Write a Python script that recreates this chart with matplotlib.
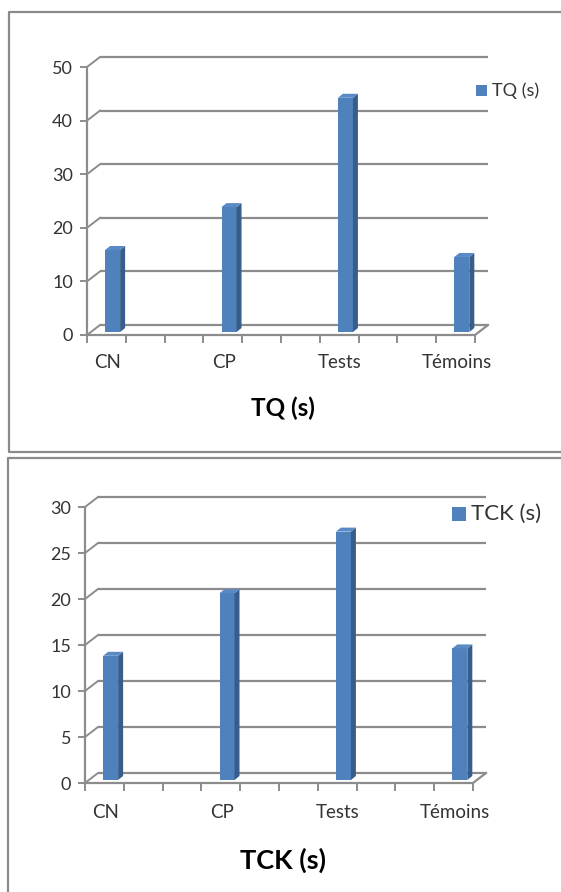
import matplotlib
matplotlib.use("Agg")
import matplotlib.pyplot as plt
from matplotlib.patches import Rectangle, Polygon
from matplotlib.lines import Line2D

categories = ["CN", "CP", "Tests", "Témoins"]
tq_values = [15.3, 23.3, 43.7, 14.0]
tck_values = [13.5, 20.3, 27.0, 14.3]

W, H = 561, 892
FRONT = "#4F81BD"
SIDE = "#385D8A"
TOP = "#5A8AC6"
GRID = "#8C8C8C"
BORDER = "#8A8A8A"
TEXT = "#333333"

plt.rcParams["font.family"] = ["Lato", "DejaVu Sans"]

fig = plt.figure(figsize=(W / 100, H / 100), dpi=100)


def fx(px):
    return px / W


def fy(py):
    return 1 - py / H


def panel(left, right, y0, ytop, ymax, step, values, title, title_y, title_size,
          label_y, leg_box, leg_label, leg_size):
    ax = fig.add_axes([fx(left), fy(y0), fx(right) - fx(left), fy(ytop) - fy(y0)])
    x0, x1 = -0.2, -0.2 + 10 / 3
    ax.set_xlim(x0, x1)
    ax.set_ylim(0, ymax)
    sx = (x1 - x0) / (right - left)
    sy = ymax / (y0 - ytop)
    dx, dy = 13 * sx, 10 * sy

    # back wall and side wall grid
    for v in range(0, ymax + 1, step):
        ax.plot([x0 + dx, x1 + dx], [v + dy, v + dy], color=GRID, lw=1.6,
                clip_on=False, zorder=1, solid_capstyle="butt")
        ax.plot([x0, x0 + dx], [v, v + dy], color=GRID, lw=1.4,
                clip_on=False, zorder=1)
    # floor edges
    ax.plot([x0, x1, x1 + dx], [0, 0, dy], color=GRID, lw=1.6, clip_on=False, zorder=1)

    for s in ["top", "right", "bottom"]:
        ax.spines[s].set_visible(False)
    ax.spines["left"].set_color(GRID)
    ax.spines["left"].set_linewidth(1.6)

    ax.set_yticks(range(0, ymax + 1, step))
    ax.tick_params(axis="y", direction="out", length=5, width=1.4, color=GRID,
                   labelsize=13, labelcolor=TEXT, pad=5)
    ax.set_xticks([x0 + k / 3 for k in range(11)])
    ax.set_xticklabels([])
    ax.tick_params(axis="x", direction="out", length=6, width=1.4, color=GRID)

    # bars drawn as front / side / top faces
    w = 15 * sx
    by = 3 * sy
    ddx, ddy = 5 * sx, 4 * sy
    for i, v in enumerate(values):
        c = i + 0.02
        ax.add_patch(Rectangle((c - w / 2, by), w, v, facecolor=FRONT,
                               edgecolor="none", zorder=3, clip_on=False))
        ax.add_patch(Polygon([(c + w / 2, by), (c + w / 2 + ddx, by + ddy),
                              (c + w / 2 + ddx, by + v + ddy), (c + w / 2, by + v)],
                             closed=True, facecolor=SIDE, edgecolor="none",
                             zorder=3, clip_on=False))
        ax.add_patch(Polygon([(c - w / 2, by + v), (c + w / 2, by + v),
                              (c + w / 2 + ddx, by + v + ddy), (c - w / 2 + ddx, by + v + ddy)],
                             closed=True, facecolor=TOP, edgecolor="none",
                             zorder=3, clip_on=False))
        fig.text(fx(left) + (i - x0) / sx / W - 3 / W, fy(label_y), categories[i],
                 ha="center", va="center", fontsize=13.5, color=TEXT)

    fig.text(fx(283), fy(title_y), title, ha="center", va="center",
             fontsize=title_size, fontweight="bold", color="black")

    lx, ly, ls = leg_box
    fig.add_artist(Rectangle((fx(lx), fy(ly + ls)), ls / W, ls / H,
                             facecolor=FRONT, edgecolor="none"))
    fig.text(fx(lx + ls + 5), fy(ly + ls / 2), leg_label, ha="left", va="center",
             fontsize=leg_size, color=TEXT)
    return ax


# panel borders
fig.add_artist(Line2D([fx(570), fx(9), fx(9), fx(570)], [fy(12), fy(12), fy(452), fy(452)],
                      color=BORDER, lw=1.6))
fig.add_artist(Line2D([fx(570), fx(8), fx(8)], [fy(458), fy(458), fy(900)],
                      color=BORDER, lw=1.6))

panel(87, 475, 335, 67, 50, 10, tq_values, "TQ (s)", 408, 17.5, 362,
      (476, 85, 11), "TQ (s)", 13)
panel(85, 473, 783, 507, 30, 5, tck_values, "TCK (s)", 860, 19.5, 812,
      (452, 507, 14), "TCK (s)", 16)

fig.savefig("out.png", dpi=100, facecolor="white")
